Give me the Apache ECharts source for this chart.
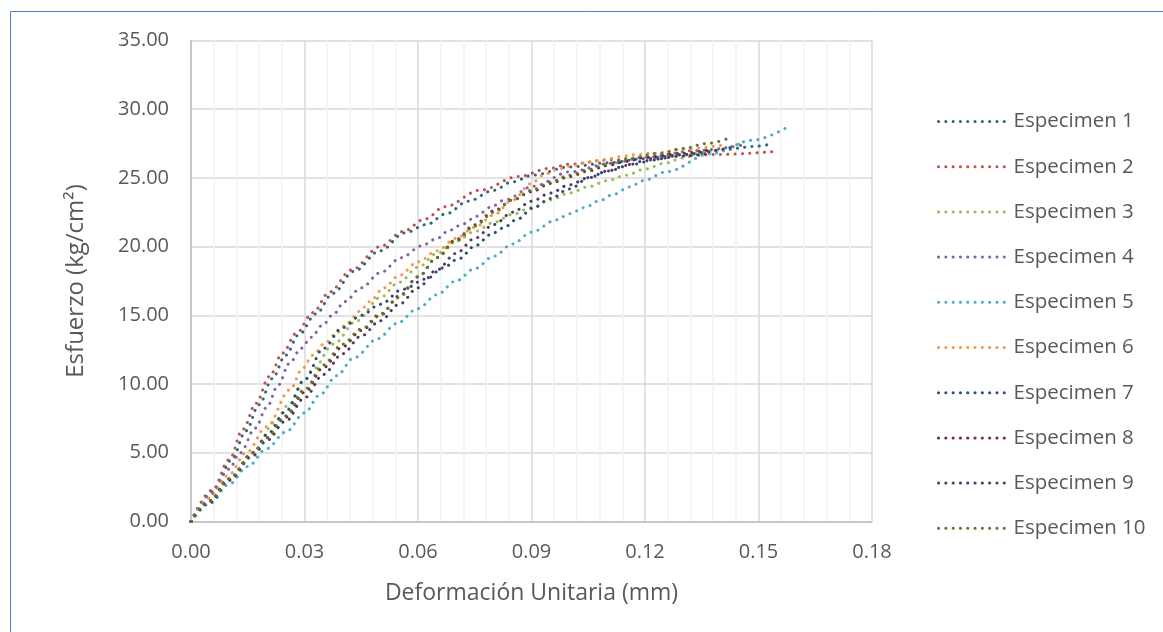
<!DOCTYPE html>
<html>
<head>
<meta charset="utf-8">
<script src="https://cdn.jsdelivr.net/npm/echarts@6/dist/echarts.min.js"></script>
<style>
  html, body { margin: 0; padding: 0; background: #fff; }
  #chart { width: 1163px; height: 632px; }
</style>
</head>
<body>
<div id="chart"></div>
<script>
// [deformación, esfuerzo]
var especimen1 = [[0,0],[0.006,2.2],[0.0108,4.5],[0.0145,6.6],[0.018,8.5],[0.0215,10.4],[0.025,12.1],[0.0285,13.6],[0.033,15.1],[0.0375,16.6],[0.043,18.2],[0.05,19.7],[0.0565,21.0],[0.0622,21.6],[0.0675,22.4],[0.0732,23.3],[0.08,24.1],[0.0848,24.7],[0.0904,25.2],[0.1,25.8],[0.11,26.1],[0.12,26.4],[0.13,26.7],[0.1407,27.05],[0.1491,27.3],[0.153,27.45]];
var especimen2 = [[0,0],[0.0057,2.3],[0.0101,4.5],[0.0137,6.7],[0.0172,8.6],[0.0207,10.55],[0.0242,12.25],[0.0278,13.7],[0.0322,15.2],[0.0366,16.7],[0.0424,18.3],[0.05,20.0],[0.056,21.1],[0.0618,22.0],[0.067,22.9],[0.0764,24.1],[0.0865,25.1],[0.0949,25.7],[0.1,26.0],[0.11,26.3],[0.1204,26.45],[0.13,26.6],[0.139,26.7],[0.1535,26.9]];
var especimen3 = [[0,0],[0.005,1.5],[0.01,3.0],[0.0165,5.0],[0.022,7.2],[0.0262,8.6],[0.03,10.3],[0.0323,11.1],[0.0376,12.9],[0.0438,14.6],[0.05,16.3],[0.055,17.4],[0.06,18.5],[0.065,19.5],[0.07,20.4],[0.075,21.1],[0.08,21.75],[0.085,22.35],[0.09,22.85],[0.095,23.4],[0.1,23.9],[0.105,24.35],[0.11,24.8],[0.115,25.2],[0.12,25.65],[0.125,26.05],[0.13,26.45],[0.135,26.85],[0.1451,27.5]];
var especimen4 = [[0,0],[0.005,1.9],[0.01,3.8],[0.013,5.0],[0.017,6.8],[0.02,8.3],[0.023,9.9],[0.026,11.5],[0.0291,12.6],[0.0318,13.4],[0.0348,14.3],[0.0377,15.1],[0.0406,16.0],[0.045,17.0],[0.05,18.1],[0.0556,19.2],[0.0609,20.05],[0.0647,20.55],[0.0684,21.2],[0.0719,21.65],[0.0754,22.2],[0.079,22.85],[0.083,23.4],[0.0905,24.4],[0.1002,25.45],[0.1107,26.05],[0.12,26.5],[0.1337,27.0],[0.146,27.4]];
var especimen5 = [[0,0],[0.005,1.3],[0.01,2.7],[0.015,4.0],[0.02,5.3],[0.025,6.5],[0.03,7.9],[0.034,9.2],[0.0385,10.6],[0.043,11.9],[0.0494,13.3],[0.0543,14.4],[0.06,15.5],[0.065,16.5],[0.07,17.5],[0.075,18.4],[0.08,19.3],[0.085,20.2],[0.09,21.05],[0.0966,21.95],[0.1001,22.4],[0.1041,22.85],[0.108,23.35],[0.1116,23.8],[0.116,24.35],[0.1195,24.8],[0.1257,25.45],[0.1372,26.75],[0.1486,27.75],[0.157,28.6]];
var especimen6 = [[0,0],[0.005,1.7],[0.01,3.4],[0.0146,5.0],[0.02,6.9],[0.0262,9.6],[0.0295,11.15],[0.0322,12.1],[0.0353,12.95],[0.0384,13.7],[0.0415,14.5],[0.0446,15.3],[0.0472,16.0],[0.051,17.0],[0.055,17.9],[0.06,18.9],[0.065,19.7],[0.07,20.6],[0.075,21.4],[0.08,22.3],[0.085,23.4],[0.09,24.6],[0.0931,25.2],[0.0966,25.6],[0.101,25.9],[0.1054,26.15],[0.1094,26.35],[0.1134,26.55],[0.1178,26.7],[0.1222,26.8],[0.1307,27.1],[0.1407,27.4]];
var especimen7 = [[0,0],[0.005,1.5],[0.01,3.1],[0.0165,5.0],[0.02,6.3],[0.025,8.0],[0.03,10.3],[0.035,12.6],[0.04,14.1],[0.045,15.0],[0.05,15.8],[0.056,16.9],[0.0622,17.65],[0.0666,18.45],[0.0706,19.1],[0.0754,20.1],[0.079,20.85],[0.0825,21.35],[0.086,21.95],[0.0904,22.8],[0.095,23.5],[0.1,24.2],[0.1055,25.05],[0.11,25.5],[0.1169,26.0],[0.1231,26.37],[0.13,26.7],[0.1425,27.2]];
var especimen8 = [[0,0],[0.005,1.5],[0.01,3.1],[0.0165,5.0],[0.02,6.1],[0.025,7.6],[0.03,9.4],[0.035,11.2],[0.04,12.7],[0.045,13.9],[0.05,15.0],[0.055,16.4],[0.06,17.8],[0.065,19.2],[0.07,20.5],[0.075,21.6],[0.08,22.6],[0.085,23.4],[0.09,24.0],[0.095,24.6],[0.1,25.1],[0.105,25.5],[0.11,25.9],[0.115,26.2],[0.12,26.5],[0.13,26.8],[0.138,27.1]];
var especimen9 = [[0,0],[0.005,1.4],[0.01,3.0],[0.0165,4.8],[0.02,5.9],[0.025,7.3],[0.03,9.0],[0.035,10.7],[0.04,12.2],[0.045,13.5],[0.05,14.6],[0.055,15.8],[0.06,17.0],[0.065,18.3],[0.07,19.5],[0.075,20.6],[0.08,21.6],[0.085,22.5],[0.09,23.3],[0.095,23.9],[0.1,24.5],[0.105,25.0],[0.11,25.5],[0.115,25.9],[0.12,26.25],[0.13,26.6],[0.137,26.8]];
var especimen10 = [[0,0],[0.005,1.5],[0.01,3.1],[0.0165,5.0],[0.02,6.1],[0.025,7.7],[0.03,9.6],[0.035,11.4],[0.04,12.9],[0.045,14.0],[0.05,15.1],[0.055,16.3],[0.06,17.8],[0.065,19.2],[0.07,20.4],[0.075,21.5],[0.08,22.5],[0.085,23.4],[0.09,24.1],[0.095,24.7],[0.1,25.2],[0.105,25.6],[0.11,26.0],[0.115,26.4],[0.124,26.8],[0.1301,27.15],[0.1363,27.5],[0.1423,27.9]];

var nombres = ['Especimen 1','Especimen 2','Especimen 3','Especimen 4','Especimen 5','Especimen 6','Especimen 7','Especimen 8','Especimen 9','Especimen 10'];
var colores = ['#276A7C','#C0504D','#9BBB59','#8064A2','#4BACC6','#F79646','#2C4D75','#772C2A','#4D3B62','#5F7530'];
var datos = [especimen1, especimen2, especimen3, especimen4, especimen5, especimen6, especimen7, especimen8, especimen9, especimen10];

var fuente = 'Open Sans';
var gris = '#595959';

var series = [];
for (var i = 0; i < datos.length; i++) {
    series.push({
        name: nombres[i],
        type: 'line',
        data: datos[i],
        smooth: 0.35,
        smoothMonotone: 'x',
        showSymbol: false,
        symbol: 'none',
        lineStyle: { color: colores[i], width: 3, type: [0.1, 7.2], cap: 'round' },
        itemStyle: { color: colores[i] }
    });
}

var chart = echarts.init(document.getElementById('chart'));
chart.setOption({
    animation: false,
    backgroundColor: '#fff',
    color: colores,
    graphic: [{
        type: 'rect',
        left: 8, top: 9,
        shape: { width: 1400, height: 900 },
        style: { fill: 'none', stroke: '#4F81BD', lineWidth: 1 },
        silent: true
    }],
    grid: { left: 191, right: 291, top: 40.5, bottom: 110.5 },
    legend: {
        orient: 'vertical',
        left: 932,
        top: 106,
        itemWidth: 67,
        itemHeight: 20,
        itemGap: 24.2,
        // sólo la línea punteada, sin el círculo del símbolo
        itemStyle: { color: 'rgba(0,0,0,0)', borderWidth: 0, opacity: 0 },
        lineStyle: { width: 3, type: [0.1, 7.2], cap: 'round', opacity: 1 },
        textStyle: { fontFamily: fuente, fontSize: 20.5, color: gris, padding: [0, 0, 0, 3] },
        data: nombres
    },
    xAxis: {
        type: 'value',
        min: 0, max: 0.18, interval: 0.03,
        name: 'Deformación Unitaria (mm)',
        nameLocation: 'middle',
        nameGap: 60,
        nameTextStyle: { fontFamily: fuente, fontSize: 23, color: gris },
        axisLine: { lineStyle: { color: '#BFBFBF', width: 1.5 } },
        axisTick: { show: false },
        axisLabel: { fontFamily: fuente, fontSize: 20, color: gris, margin: 21, formatter: function (v) { return v.toFixed(2); } },
        splitLine: { lineStyle: { color: '#D9D9D9', width: 1.5 } },
        minorTick: { show: false, splitNumber: 5 },
        minorSplitLine: { show: true, lineStyle: { color: '#F2F2F2', width: 1.5 } }
    },
    yAxis: {
        type: 'value',
        min: 0, max: 35, interval: 5,
        name: 'Esfuerzo (kg/cm²)',
        nameLocation: 'middle',
        nameGap: 103,
        nameTextStyle: { fontFamily: fuente, fontSize: 24, color: gris },
        axisLine: { show: true, lineStyle: { color: '#BFBFBF', width: 1.5 } },
        axisTick: { show: false },
        axisLabel: { fontFamily: fuente, fontSize: 20, color: gris, margin: 22, formatter: function (v) { return v.toFixed(2); } },
        splitLine: { lineStyle: { color: '#D9D9D9', width: 1.5 } }
    },
    series: series
});
</script>
</body>
</html>
